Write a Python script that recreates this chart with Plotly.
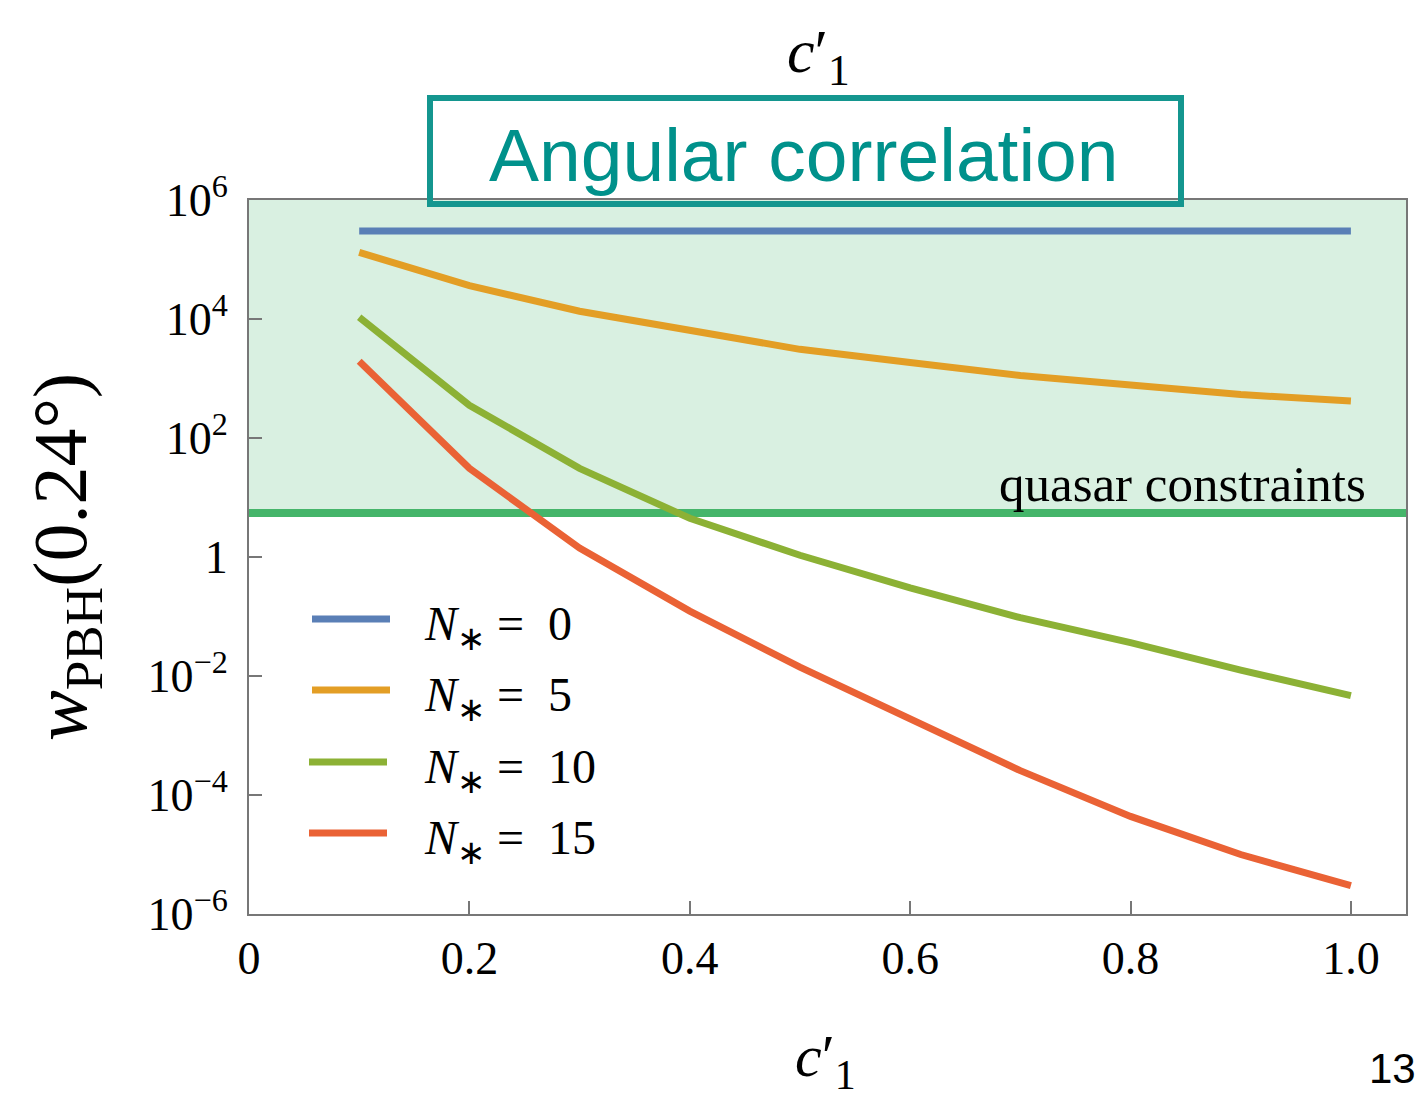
import plotly.graph_objects as go

# ---- data ----
c1 = [0.1, 0.2, 0.3, 0.4, 0.5, 0.6, 0.7, 0.8, 0.9, 1.0]
w_N0 = [3.0e5] * 10
w_N5 = [1.32e5, 3.63e4, 1.35e4, 6.46e3, 3.09e3, 1.86e3, 1.12e3, 776, 537, 417]
w_N10 = [1.07e4, 355, 30.9, 4.47, 1.07, 0.302, 0.0955, 0.0363, 0.0126, 0.00468]
w_N15 = [1950, 30.9, 1.41, 0.123, 0.0141, 1.86e-3, 2.57e-4, 4.37e-5, 1.0e-5, 3.0e-6]
series_names = ["0", "5", "10", "15"]
series_vals = [w_N0, w_N5, w_N10, w_N15]
colors = ["#5a7fb6", "#e39e25", "#8cb135", "#ea6235"]
quasar_w = 5.5
x_range = [0, 1.05]
y_exp_range = [-6, 6]
x_ticks = [0, 0.2, 0.4, 0.6, 0.8, 1.0]
x_ticktext = ["0", "0.2", "0.4", "0.6", "0.8", "1.0"]
y_tickvals = [1e-6, 1e-4, 1e-2, 1, 1e2, 1e4, 1e6]
y_ticktext = ["10<sup>−6</sup>", "10<sup>−4</sup>", "10<sup>−2</sup>", "1",
              "10<sup>2</sup>", "10<sup>4</sup>", "10<sup>6</sup>"]

SERIF = "Liberation Serif"
fig = go.Figure()

# shaded allowed region above quasar constraint
fig.add_trace(go.Scatter(
    x=[x_range[0], x_range[1], x_range[1], x_range[0]],
    y=[quasar_w, quasar_w, 10 ** y_exp_range[1], 10 ** y_exp_range[1]],
    fill="toself", fillcolor="#d9f0e1", line=dict(width=0),
    mode="lines", showlegend=False, hoverinfo="skip"))
fig.add_trace(go.Scatter(
    x=x_range, y=[quasar_w, quasar_w], mode="lines",
    line=dict(color="#45b56a", width=8), showlegend=False))

for name, vals, col in zip(series_names, series_vals, colors):
    fig.add_trace(go.Scatter(x=c1, y=vals, mode="lines",
                             line=dict(color=col, width=7),
                             name=name, showlegend=False))

# plot domain in pixels
L, R, T, B = 249, 1406, 200, 914
W, H = R - L, B - T


def px(x):
    return (x - L) / W


def py(y):
    return (B - y) / H


shapes = []
annotations = []
# manual legend
leg_y = [619, 690, 762, 833]
leg_x0 = [312, 312, 309, 309]
for yy, x0, col, name in zip(leg_y, leg_x0, colors, series_names):
    shapes.append(dict(type="line", xref="paper", yref="paper",
                       x0=px(x0), x1=px(x0 + 78), y0=py(yy), y1=py(yy),
                       line=dict(color=col, width=7)))
    annotations.append(dict(xref="paper", yref="paper", x=px(422), y=py(yy + 8),
                            xanchor="left", yanchor="middle", showarrow=False,
                            text="<i>N</i><sub>∗</sub> =  " + name,
                            font=dict(family=SERIF, size=48, color="black")))

# title box
shapes.append(dict(type="rect", xref="paper", yref="paper",
                   x0=px(430), x1=px(1181), y0=py(98), y1=py(204),
                   line=dict(color="#14968f", width=6), fillcolor="rgba(0,0,0,0)"))
annotations.append(dict(xref="paper", yref="paper", x=px(804), y=py(155),
                        xanchor="center", yanchor="middle", showarrow=False,
                        text="Angular correlation",
                        font=dict(family="Liberation Sans", size=75, color="#00918b")))
# quasar label
annotations.append(dict(xref="paper", yref="paper", x=px(1368), y=py(484),
                        xanchor="right", yanchor="middle", showarrow=False,
                        text="quasar constraints",
                        font=dict(family=SERIF, size=51, color="black")))
# top c'_1
annotations.append(dict(xref="paper", yref="paper", x=px(818), y=py(55),
                        xanchor="center", yanchor="middle", showarrow=False,
                        text="<i>c</i>′<sub>1</sub>",
                        font=dict(family=SERIF, size=62, color="black")))
# x label
annotations.append(dict(xref="paper", yref="paper", x=px(825), y=py(1060),
                        xanchor="center", yanchor="middle", showarrow=False,
                        text="<i>c</i>′<sub>1</sub>",
                        font=dict(family=SERIF, size=60, color="black")))
# y label
annotations.append(dict(xref="paper", yref="paper", x=px(66), y=py(557),
                        xanchor="center", yanchor="middle", showarrow=False,
                        textangle=-90,
                        text="<i>w</i><sub>PBH</sub>(0.24°)",
                        font=dict(family=SERIF, size=76, color="black")))
# page number
annotations.append(dict(xref="paper", yref="paper", x=px(1392), y=py(1068),
                        xanchor="center", yanchor="middle", showarrow=False,
                        text="13",
                        font=dict(family="Liberation Sans", size=42, color="black")))

axis_common = dict(showgrid=False, zeroline=False, showline=True, mirror=True,
                   linecolor="#777777", linewidth=2, ticks="inside", ticklen=13,
                   tickwidth=2, tickcolor="#777777",
                   tickfont=dict(family=SERIF, size=46, color="black"))

fig.update_layout(
    width=1419, height=1103,
    margin=dict(l=L, r=1419 - R, t=T, b=1103 - B),
    paper_bgcolor="white", plot_bgcolor="white",
    showlegend=False,
    xaxis=dict(range=x_range, tickvals=x_ticks, ticktext=x_ticktext,
               ticklabelstandoff=3, **axis_common),
    yaxis=dict(type="log", range=y_exp_range, tickvals=y_tickvals,
               ticktext=y_ticktext, ticklabelstandoff=10, **axis_common),
    shapes=shapes, annotations=annotations,
)

fig.write_html("out.html")
